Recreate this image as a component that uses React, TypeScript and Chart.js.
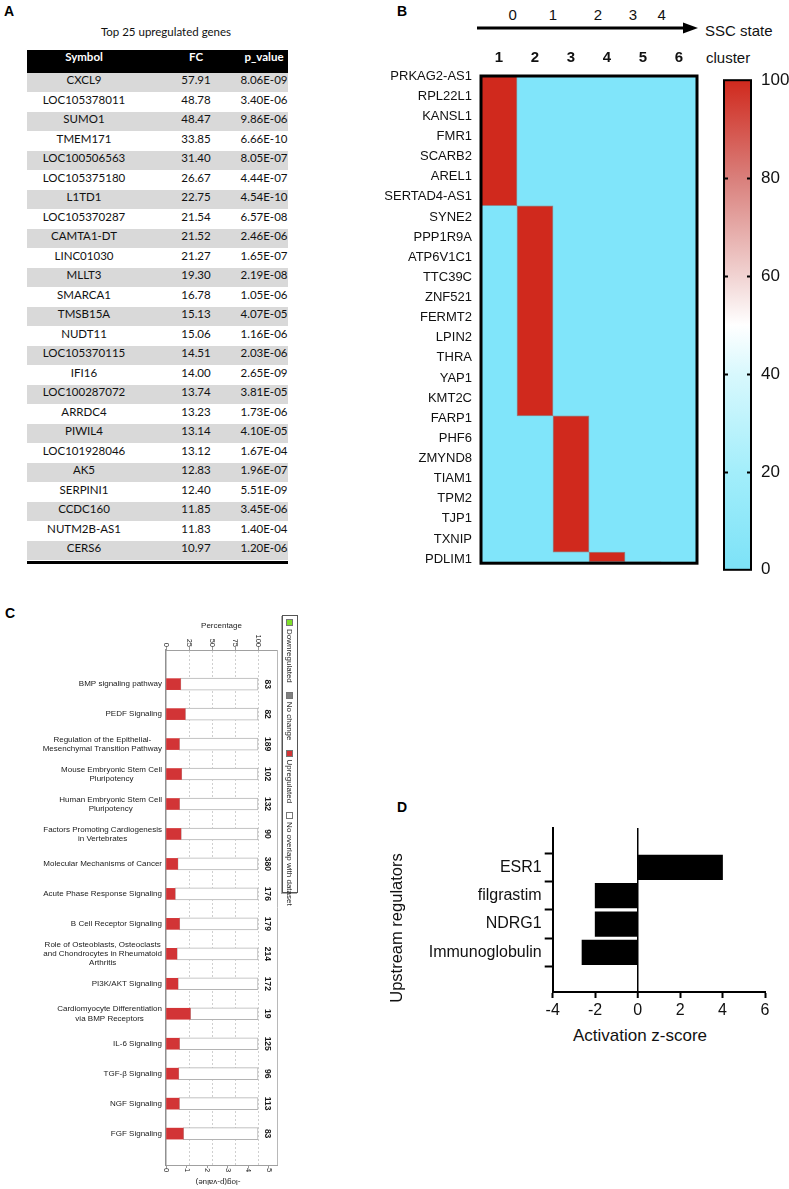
import React, { useEffect, useRef } from 'react';
import { Chart, registerables } from 'chart.js';

Chart.register(...registerables);

const ARIAL = '"Liberation Sans", Arial, Helvetica, sans-serif';
const CALIBRI = 'Lato, "Open Sans", sans-serif';
Chart.defaults.font.family = ARIAL;

// ---------------- Panel A data ----------------
const tableTitle = 'Top 25 upregulated genes';
const tableColumns = ['Symbol', 'FC', 'p_value'];
const geneSymbols = ['CXCL9', 'LOC105378011', 'SUMO1', 'TMEM171', 'LOC100506563', 'LOC105375180', 'L1TD1', 'LOC105370287', 'CAMTA1-DT', 'LINC01030', 'MLLT3', 'SMARCA1', 'TMSB15A', 'NUDT11', 'LOC105370115', 'IFI16', 'LOC100287072', 'ARRDC4', 'PIWIL4', 'LOC101928046', 'AK5', 'SERPINI1', 'CCDC160', 'NUTM2B-AS1', 'CERS6'];
const geneFC = ['57.91', '48.78', '48.47', '33.85', '31.40', '26.67', '22.75', '21.54', '21.52', '21.27', '19.30', '16.78', '15.13', '15.06', '14.51', '14.00', '13.74', '13.23', '13.14', '13.12', '12.83', '12.40', '11.85', '11.83', '10.97'];
const genePValues = ['8.06E-09', '3.40E-06', '9.86E-06', '6.66E-10', '8.05E-07', '4.44E-07', '4.54E-10', '6.57E-08', '2.46E-06', '1.65E-07', '2.19E-08', '1.05E-06', '4.07E-05', '1.16E-06', '2.03E-06', '2.65E-09', '3.81E-05', '1.73E-06', '4.10E-05', '1.67E-04', '1.96E-07', '5.51E-09', '3.45E-06', '1.40E-04', '1.20E-06'];

// ---------------- Panel B data ----------------
const heatmapGenes = ['PRKAG2-AS1', 'RPL22L1', 'KANSL1', 'FMR1', 'SCARB2', 'AREL1', 'SERTAD4-AS1', 'SYNE2', 'PPP1R9A', 'ATP6V1C1', 'TTC39C', 'ZNF521', 'FERMT2', 'LPIN2', 'THRA', 'YAP1', 'KMT2C', 'FARP1', 'PHF6', 'ZMYND8', 'TIAM1', 'TPM2', 'TJP1', 'TXNIP', 'PDLIM1'];
const clusterLabels = ['1', '2', '3', '4', '5', '6'];
// red (100) block of each cluster column, in heat-map row units (0 = top, 25 = bottom)
const clusterHighStart = [0, 6.66, 17.44, 24.43, 24.93, null];
const clusterHighEnd = [6.66, 17.44, 24.43, 24.93, 25, null];
const sscStates = ['0', '1', '2', '3', '4'];
const colorScaleMin = 0;
const colorScaleMax = 100;
const colorScaleStep = 20;

// ---------------- Panel C data ----------------
const pathways: string[][] = [
  ['BMP signaling pathway'],
  ['PEDF Signaling'],
  ['Regulation of the Epithelial-', 'Mesenchymal Transition Pathway'],
  ['Mouse Embryonic Stem Cell', 'Pluripotency'],
  ['Human Embryonic Stem Cell', 'Pluripotency'],
  ['Factors Promoting Cardiogenesis', 'in Vertebrates'],
  ['Molecular Mechanisms of Cancer'],
  ['Acute Phase Response Signaling'],
  ['B Cell Receptor Signaling'],
  ['Role of Osteoblasts, Osteoclasts', 'and Chondrocytes in Rheumatoid', 'Arthritis'],
  ['PI3K/AKT Signaling'],
  ['Cardiomyocyte Differentiation', 'via BMP Receptors'],
  ['IL-6 Signaling'],
  ['TGF-\u03B2 Signaling'],
  ['NGF Signaling'],
  ['FGF Signaling'],
];
const pathwayTotals = [83, 82, 189, 102, 132, 90, 380, 176, 179, 214, 172, 19, 125, 96, 113, 83];
const upregulatedPct = [15.7, 20.7, 14.3, 16.7, 14.4, 16.1, 12.6, 9.7, 14.5, 11.7, 12.8, 26.3, 14.4, 13.5, 14.2, 18.7];
const pathwayLegend = ['Downregulated', 'No change', 'Upregulated', 'No overlap with dataset'];

// ---------------- Panel D data ----------------
const regulators = ['ESR1', 'filgrastim', 'NDRG1', 'Immunoglobulin'];
const zScores = [4.0, -2.0, -2.0, -2.62];

// ---------------- styles ----------------
const HEAT_RED = '#d0291d';
const HEAT_CYAN = '#80e5fa';
const IPA_RED = '#d23436';
const LEGEND_COLORS = ['#7fe02a', '#808080', IPA_RED, '#ffffff'];
const sscStateX = [512.7, 553, 598, 633, 661.7];

// ---------------- chart configs ----------------
const heatmapPlugin = {
  id: 'heatmapFrame',
  beforeDatasetsDraw(chart: any) {
    const { ctx, chartArea: a } = chart;
    ctx.save();
    ctx.fillStyle = HEAT_CYAN;
    ctx.fillRect(a.left, a.top, a.right - a.left, a.bottom - a.top);
    ctx.restore();
  },
  afterDatasetsDraw(chart: any) {
    const { ctx, chartArea: a } = chart;
    ctx.save();
    ctx.strokeStyle = '#000';
    ctx.lineWidth = 3;
    ctx.strokeRect(a.left, a.top, a.right - a.left, a.bottom - a.top);
    ctx.restore();
  },
};

function makeHeatmap(): any {
  return {
    type: 'bar',
    data: {
      labels: clusterLabels,
      datasets: [
        {
          label: 'High (100)',
          data: clusterLabels.map((_, i) => (clusterHighStart[i] == null ? null : [clusterHighStart[i], clusterHighEnd[i]])),
          backgroundColor: HEAT_RED,
          borderColor: 'rgba(150,120,120,0.9)',
          borderWidth: 1,
          borderSkipped: false,
          barPercentage: 1,
          categoryPercentage: 1,
          xAxisID: 'x',
          yAxisID: 'y',
        },
      ],
    },
    options: {
      responsive: false,
      animation: false,
      layout: { padding: { left: 0, right: 13, top: 0, bottom: 7 } },
      plugins: { legend: { display: false }, tooltip: { enabled: false } },
      scales: {
        x: {
          type: 'category',
          position: 'top',
          grid: { display: false, drawTicks: false },
          border: { display: false },
          ticks: { font: { family: ARIAL, size: 15, weight: 'bold' }, color: '#111', padding: 9 },
          afterFit: (s: any) => { s.height = 36; },
        },
        y: { type: 'linear', display: false, min: 0, max: 25, reverse: true },
        yl: {
          type: 'linear',
          position: 'left',
          min: 0,
          max: 24.2,
          reverse: true,
          grid: { display: false, drawTicks: false },
          border: { display: false },
          ticks: {
            stepSize: 1,
            autoSkip: false,
            includeBounds: false,
            maxTicksLimit: 100,
            font: { family: ARIAL, size: 13 },
            color: '#111',
            padding: 9,
            callback: (v: any) => heatmapGenes[v] ?? '',
          },
          afterFit: (s: any) => { s.width = 101; },
        },
      },
    },
    plugins: [heatmapPlugin],
  };
}

const colorbarPlugin = {
  id: 'colorbarFrame',
  afterDatasetsDraw(chart: any) {
    const { ctx, chartArea: a, scales } = chart;
    const ys = scales.y;
    ctx.save();
    ctx.strokeStyle = '#000';
    ctx.lineWidth = 2;
    ctx.strokeRect(a.left, a.top, a.right - a.left, a.bottom - a.top);
    ys.ticks.forEach((t: any) => {
      if (t.value <= colorScaleMin || t.value >= colorScaleMax) return;
      const y = Math.round(ys.getPixelForValue(t.value)) + 0.5;
      ctx.beginPath();
      ctx.moveTo(a.left, y); ctx.lineTo(a.left + 4, y);
      ctx.moveTo(a.right - 4, y); ctx.lineTo(a.right, y);
      ctx.stroke();
    });
    ctx.restore();
  },
};

function makeColorbar(): any {
  return {
    type: 'bar',
    data: {
      labels: ['scale'],
      datasets: [
        {
          label: 'color scale',
          data: [[colorScaleMin, colorScaleMax]],
          backgroundColor: (c: any) => {
            const { chart } = c;
            const a = chart.chartArea;
            if (!a) return HEAT_CYAN;
            const g = chart.ctx.createLinearGradient(0, a.bottom, 0, a.top);
            g.addColorStop(0, '#7ce2f7');
            g.addColorStop(0.2, '#a3eefb');
            g.addColorStop(0.4, '#d8f8fd');
            g.addColorStop(0.5, '#ffffff');
            g.addColorStop(0.6, '#f1d3d2');
            g.addColorStop(0.8, '#d97f7b');
            g.addColorStop(1, '#d0291d');
            return g;
          },
          borderWidth: 0,
          barPercentage: 1,
          categoryPercentage: 1,
        },
      ],
    },
    options: {
      responsive: false,
      animation: false,
      layout: { padding: { left: 9, right: 0, top: 16, bottom: 17 } },
      plugins: { legend: { display: false }, tooltip: { enabled: false } },
      scales: {
        x: { display: false },
        y: {
          position: 'right',
          min: colorScaleMin,
          max: colorScaleMax,
          grid: { display: false, drawTicks: false },
          border: { display: false },
          ticks: { stepSize: colorScaleStep, font: { family: ARIAL, size: 17 }, color: '#111', padding: 10 },
          afterFit: (s: any) => { s.width = 38; },
        },
      },
    },
    plugins: [colorbarPlugin],
  };
}

const pathwayPlugin = {
  id: 'pathwayText',
  afterDraw(chart: any) {
    const { ctx, chartArea: a, scales } = chart;
    const ys = scales.y;
    const xs = scales.x;
    const x2 = scales.x2;
    ctx.save();
    // right frame line
    ctx.strokeStyle = '#b8b8b8';
    ctx.lineWidth = 1;
    ctx.beginPath();
    ctx.moveTo(a.right + 0.5, a.top);
    ctx.lineTo(a.right + 0.5, a.bottom);
    ctx.stroke();
    // category labels, each block centred and right-aligned against the axis
    ctx.fillStyle = '#1a1a1a';
    ctx.font = `8px ${ARIAL}`;
    ctx.textBaseline = 'middle';
    ctx.textAlign = 'center';
    pathways.forEach((lines, i) => {
      const y = ys.getPixelForValue(i);
      const w = Math.max(...lines.map((l) => ctx.measureText(l).width));
      const cx = a.left - 4 - w / 2;
      const lh = 9.2;
      lines.forEach((l, k) => ctx.fillText(l, cx, y + (k - (lines.length - 1) / 2) * lh));
    });
    // totals at right, rotated
    ctx.font = `bold 8.5px ${ARIAL}`;
    pathwayTotals.forEach((t, i) => {
      const y = ys.getPixelForValue(i);
      ctx.save();
      ctx.translate(a.right - 10, y);
      ctx.rotate(Math.PI / 2);
      ctx.textAlign = 'center';
      ctx.fillText(String(t), 0, 0);
      ctx.restore();
    });
    // top (percentage) tick labels
    ctx.font = `7.5px ${ARIAL}`;
    xs.ticks.forEach((t: any) => {
      const px = xs.getPixelForValue(t.value);
      ctx.save();
      ctx.translate(px, a.top - 3);
      ctx.rotate(Math.PI / 2);
      ctx.textAlign = 'right';
      ctx.fillText(String(t.value), 0, 0);
      ctx.restore();
    });
    ctx.font = `8px ${ARIAL}`;
    ctx.textAlign = 'center';
    ctx.fillText('Percentage', (a.left + a.right) / 2, a.top - 24);
    // bottom (-log p) tick labels
    ctx.font = `7.5px ${ARIAL}`;
    x2.ticks.forEach((t: any) => {
      const px = x2.getPixelForValue(t.value);
      ctx.save();
      ctx.translate(px, a.bottom + 3);
      ctx.rotate(Math.PI / 2);
      ctx.textAlign = 'left';
      ctx.fillText(String(t.value), 0, 0);
      ctx.restore();
    });
    ctx.save();
    ctx.font = `8px ${ARIAL}`;
    ctx.translate(a.left + 52, a.bottom + 17);
    ctx.rotate(Math.PI);
    ctx.textAlign = 'center';
    ctx.fillText('-log(p-value)', 0, 0);
    ctx.restore();
    ctx.restore();
  },
};

function makePathways(): any {
  return {
    type: 'bar',
    data: {
      datasets: [
        {
          label: 'Upregulated',
          data: upregulatedPct.map((v, i) => ({ x: v, y: i })),
          backgroundColor: IPA_RED,
          borderWidth: 0,
          barThickness: 11,
          grouped: false,
        },
        {
          label: 'No overlap with dataset',
          data: upregulatedPct.map((v, i) => ({ x: [v, 100], y: i })),
          backgroundColor: '#ffffff',
          borderColor: '#b4b4b4',
          borderWidth: 1,
          borderSkipped: false,
          barThickness: 12,
          grouped: false,
        },
      ],
    },
    options: {
      indexAxis: 'y',
      responsive: false,
      animation: false,
      layout: { padding: { left: 0, right: 53, top: 0, bottom: 0 } },
      plugins: { legend: { display: false }, tooltip: { enabled: false } },
      scales: {
        x: {
          type: 'linear',
          position: 'top',
          min: 0,
          max: 120.6,
          ticks: { display: false, stepSize: 25, includeBounds: false },
          grid: {
            color: (c: any) => (c.tick && c.tick.value > 0 ? '#cfcfcf' : 'rgba(0,0,0,0)'),
            lineWidth: 1,
            drawTicks: true,
            tickLength: 3,
            tickColor: '#9a9a9a',
          },
          border: { display: true, color: '#a0a0a0', width: 1, dash: [2, 2] },
          afterFit: (s: any) => { s.height = 30; },
        },
        x2: {
          type: 'linear',
          position: 'bottom',
          min: 0,
          max: 5.39,
          ticks: { display: false, stepSize: 1, includeBounds: false },
          grid: { drawOnChartArea: false, drawTicks: true, tickLength: 3, tickColor: '#9a9a9a' },
          border: { display: true, color: '#a0a0a0', width: 1 },
          afterFit: (s: any) => { s.height = 24; },
        },
        y: {
          type: 'linear',
          min: -0.662,
          max: 15.57,
          reverse: true,
          ticks: { display: false, stepSize: 1 },
          grid: { display: false },
          border: { display: true, color: '#909090', width: 1.5 },
          afterFit: (s: any) => { s.width = 166; },
        },
      },
    },
    plugins: [pathwayPlugin],
  };
}

function makeRegulators(): any {
  return {
    type: 'bar',
    data: {
      datasets: [
        {
          label: 'Activation z-score',
          data: zScores.map((v, i) => ({ x: v, y: i })),
          backgroundColor: '#000',
          borderColor: '#333',
          borderWidth: 0,
          barThickness: 24.6,
        },
      ],
    },
    options: {
      indexAxis: 'y',
      responsive: false,
      animation: false,
      layout: { padding: { left: 0, right: 24, top: 13, bottom: 0 } },
      plugins: { legend: { display: false }, tooltip: { enabled: false } },
      scales: {
        x: {
          type: 'linear',
          min: -4,
          max: 6,
          ticks: { stepSize: 2, font: { family: ARIAL, size: 16 }, color: '#111', padding: 3, maxRotation: 0 },
          grid: {
            color: (c: any) => (c.tick && c.tick.value === 0 ? '#000' : 'rgba(0,0,0,0)'),
            lineWidth: (c: any) => (c.tick && c.tick.value === 0 ? 1.5 : 1),
            drawTicks: true,
            tickLength: 6,
            tickColor: '#000',
            tickWidth: 2,
          },
          border: { color: '#000', width: 2 },
          afterFit: (s: any) => { s.height = 33; },
        },
        y: {
          type: 'linear',
          min: -0.662,
          max: 3.67,
          reverse: true,
          ticks: {
            stepSize: 1,
            includeBounds: false,
            autoSkip: false,
            font: { family: ARIAL, size: 16 },
            color: '#111',
            padding: 3,
            callback: (v: any) => regulators[v] ?? '',
          },
          grid: { drawOnChartArea: false, drawTicks: true, tickLength: 8, tickColor: '#000', tickWidth: 2 },
          border: { color: '#000', width: 2 },
          afterFit: (s: any) => { s.width = 167.7; },
        },
      },
    },
  };
}

// ---------------- components ----------------
function ChartBox({ make, left, top, width, height }: { make: () => any; left: number; top: number; width: number; height: number }) {
  const ref = useRef<HTMLCanvasElement>(null);
  useEffect(() => {
    const chart = new Chart(ref.current as HTMLCanvasElement, make());
    return () => chart.destroy();
  }, [make]);
  return (
    <canvas
      ref={ref}
      width={width}
      height={height}
      style={{ position: 'absolute', left, top, width, height }}
    />
  );
}

const abs = (left: number, top: number, extra: any = {}) => ({ position: 'absolute' as const, left, top, ...extra });

function PanelLetter({ ch, left, top }: { ch: string; left: number; top: number }) {
  return (
    <div style={abs(left, top, { font: `bold 14px ${ARIAL}`, lineHeight: '14px', color: '#000' })}>{ch}</div>
  );
}

function TablePanel() {
  const left = 27;
  const right = 288;
  const headerTop = 50;
  const headerH = 23;
  const rowH = 19.5;
  const centers = [84, 196, 264];
  const cellStyle = (cx: number, h: number) => abs(cx - 70, 0, { width: 140, height: h, lineHeight: `${h}px`, textAlign: 'center' as const });
  return (
    <div>
      <div style={abs(66, 24, { width: 200, textAlign: 'center', font: `11.5px ${CALIBRI}`, lineHeight: '15px', color: '#111' })}>{tableTitle}</div>
      <div style={abs(left, headerTop, { width: right - left, height: headerH, background: '#000' })}>
        {tableColumns.map((c, k) => (
          <div key={c} style={{ ...cellStyle(centers[k] - left, headerH), color: '#fff', font: `bold 11.5px ${CALIBRI}`, lineHeight: `${headerH}px` }}>{c}</div>
        ))}
      </div>
      {geneSymbols.map((g, i) => {
        const top = headerTop + headerH + i * rowH;
        const vals = [g, geneFC[i], genePValues[i]];
        return (
          <div key={g} style={abs(left, top, { width: right - left, height: rowH, background: i % 2 === 0 ? '#d9d9d9' : '#ffffff', borderBottom: '1px solid #fff', boxSizing: 'border-box' })}>
            {vals.map((v, k) => (
              <div key={k} style={{ ...cellStyle(centers[k] - left, rowH), color: '#111', font: `11.5px ${CALIBRI}`, lineHeight: `${rowH}px` }}>{v}</div>
            ))}
          </div>
        );
      })}
      <div style={abs(left, headerTop + headerH + geneSymbols.length * rowH, { width: right - left, height: 3, background: '#000' })} />
    </div>
  );
}

function HeatHeader() {
  return (
    <div>
      {sscStates.map((s, i) => (
        <div key={s} style={abs(sscStateX[i] - 10, 6, { width: 20, textAlign: 'center', font: `15px ${ARIAL}`, lineHeight: '18px', color: '#111' })}>{s}</div>
      ))}
      <svg style={abs(470, 15)} width={240} height={30}>
        <line x1={7} y1={13} x2={216} y2={13} stroke="#000" strokeWidth={3} />
        <polygon points="213,7.5 228,13 213,18.5" fill="#000" />
      </svg>
      <div style={abs(705, 22, { font: `15px ${ARIAL}`, lineHeight: '18px', color: '#111', whiteSpace: 'nowrap' })}>SSC state</div>
      <div style={abs(706, 49, { font: `15px ${ARIAL}`, lineHeight: '18px', color: '#111', whiteSpace: 'nowrap' })}>cluster</div>
    </div>
  );
}

function PathwayLegend() {
  // rotated 90deg clockwise, occupying x 282..298, y 615..893
  return (
    <div
      style={abs(298, 615, {
        width: 278,
        height: 16,
        transform: 'rotate(90deg)',
        transformOrigin: '0 0',
        border: '1px solid #555',
        boxShadow: '1px 1px 0 #aaa',
        boxSizing: 'border-box',
        background: '#fff',
        display: 'flex',
        alignItems: 'center',
        paddingLeft: 3,
        font: `8px ${ARIAL}`,
        color: '#222',
        whiteSpace: 'nowrap',
      })}
    >
      {pathwayLegend.map((l, i) => (
        <span key={l} style={{ display: 'inline-flex', alignItems: 'center', marginRight: 9 }}>
          <span style={{ display: 'inline-block', width: 7, height: 7, background: LEGEND_COLORS[i], border: '1px solid #777', boxSizing: 'border-box', marginRight: 3 }} />
          {l}
        </span>
      ))}
    </div>
  );
}

export default function App() {
  return (
    <div style={{ position: 'absolute', left: 0, top: 0, width: 789, height: 1189, background: '#fff', overflow: 'hidden', fontFamily: ARIAL }}>
      <PanelLetter ch="A" left={4} top={4} />
      <PanelLetter ch="B" left={397} top={4} />
      <PanelLetter ch="C" left={5} top={606} />
      <PanelLetter ch="D" left={397} top={800} />

      <TablePanel />

      <HeatHeader />
      <ChartBox make={makeHeatmap} left={380} top={40} width={330} height={540} />
      <ChartBox make={makeColorbar} left={715} top={60} width={74} height={530} />

      <ChartBox make={makePathways} left={0} top={620} width={330} height={569} />
      <PathwayLegend />

      <ChartBox make={makeRegulators} left={385} top={815} width={404} height={210} />
      <div style={abs(297, 918, { width: 200, height: 20, lineHeight: '20px', textAlign: 'center', transform: 'rotate(-90deg)', transformOrigin: '50% 50%', font: `16.5px ${ARIAL}`, color: '#111', whiteSpace: 'nowrap' })}>Upstream regulators</div>
      <div style={abs(540, 1026, { width: 200, height: 20, lineHeight: '20px', textAlign: 'center', font: `17px ${ARIAL}`, color: '#111', whiteSpace: 'nowrap' })}>Activation z-score</div>
    </div>
  );
}
